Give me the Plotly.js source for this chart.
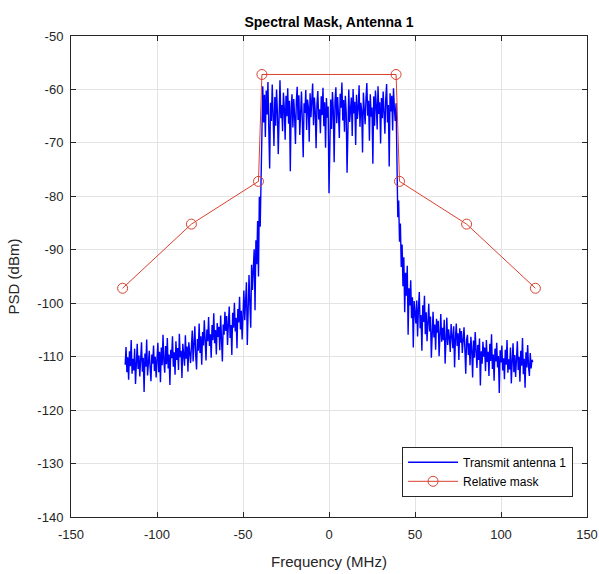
<!DOCTYPE html>
<html>
<head>
<meta charset="utf-8">
<script src="https://cdn.plot.ly/plotly-3.0.1.min.js"></script>
<style>
  html, body { margin: 0; padding: 0; background: #ffffff; }
  #chart { width: 599px; height: 574px; }
</style>
</head>
<body>
<div id="chart"></div>
<script>
// Power spectral density of transmit antenna 1, sampled on a 0.5 MHz grid.
const freqStep = 0.5;

// Lower out-of-band region: -118.5 MHz .. -39.5 MHz
const psdLeftStart = -118.5;
const psdLeft = [
  -111.5, -108.2, -112.9, -110.1, -114.3, -109.0, -111.8, -106.9, -113.2, -110.4,
  -112.6, -108.5, -115.1, -110.9, -107.6, -112.3, -109.8, -113.7, -111.0, -107.3,
  -112.8, -110.2, -116.6, -109.4, -111.9, -106.8, -113.5, -110.7, -108.9, -112.1,
  -114.6, -109.6, -111.3, -107.9, -112.7, -110.0, -113.9,
  -110.5, -107.4, -112.9, -109.1, -114.8, -108.3, -111.6, -105.9, -110.9, -113.0,
  -108.0, -111.4, -106.5, -112.2, -109.6, -115.3, -108.7, -110.3, -106.2, -111.9,
  -109.2, -113.4, -107.1, -110.6, -108.4, -112.5, -105.7, -110.1, -108.9, -114.0,
  -107.6, -109.9, -111.7, -106.0, -110.4, -108.1, -112.8, -107.3, -109.5, -111.2,
  -108.2, -105.1, -110.9, -107.6, -104.3, -109.8, -112.4, -106.7, -108.9, -103.8,
  -109.3, -106.2, -111.5, -105.4, -107.9, -103.2, -108.6, -110.7, -104.9, -107.1,
  -102.6, -108.0, -105.8, -110.2, -104.1, -106.9, -101.9, -107.5, -105.0, -109.6,
  -103.7, -106.3, -104.4, -108.8, -102.3, -106.1, -110.9, -104.0, -105.9, -101.6,
  -105.2, -102.4, -107.8, -103.9, -100.6, -106.5, -104.1, -109.7, -101.8, -104.6,
  -99.9, -105.3, -102.7, -108.4, -101.1, -103.6, -98.8, -104.9, -101.4, -106.8,
  -100.9, -97.6, -103.2, -99.4, -96.1, -107.8, -98.3, -94.7, -100.2, -104.6,
  -92.8, -97.5, -93.6, -89.9, -101.3, -88.2, -92.7, -84.6, -95.0, -80.1,
  -85.7, -74.8
];

// Occupied channel: -39 MHz .. 39 MHz (DC bin at 0 MHz)
const psdBandStart = -39;
const psdBand = [
  -63.1, -59.4, -66.2, -61.0, -68.9, -60.2, -64.7, -58.6, -67.3, -74.8,
  -62.5, -65.9, -59.1, -63.8, -70.6, -61.4, -66.8, -60.0, -64.2, -72.1,
  -61.7, -58.3, -65.4, -62.9, -67.8, -60.6, -63.5, -69.4, -61.2, -65.0,
  -59.8, -66.4, -62.1, -75.3, -63.6, -60.9, -67.1, -61.8, -64.9, -70.2,
  -62.3, -59.5, -65.7, -61.1, -68.5, -63.0, -60.4, -66.0, -72.7, -62.6,
  -64.4, -60.1, -67.6, -61.9, -63.3, -69.8, -60.7, -65.2, -62.0, -58.9,
  -66.7, -61.5, -64.1, -71.0, -62.8, -60.3, -65.6, -63.7, -68.2, -61.3,
  -64.8, -59.7, -66.9, -62.4, -70.9, -61.6, -65.3, -63.2, -79.4, -64.0,
  -61.9, -67.4, -60.5, -63.9, -73.6, -62.2, -59.6, -66.3, -61.4, -64.6,
  -69.1, -60.8, -63.4, -58.7, -65.8, -62.0, -67.9, -61.2, -64.3, -75.6,
  -62.7, -60.0, -66.1, -63.1, -61.5, -68.7, -59.9, -64.5, -62.3, -70.4,
  -61.0, -65.5, -63.6, -59.2, -67.0, -62.5, -64.0, -71.8, -60.6, -63.8,
  -66.5, -61.7, -58.8, -64.9, -62.1, -69.6, -60.9, -65.1, -63.4, -73.9,
  -61.3, -66.8, -60.2, -63.0, -67.5, -59.4, -64.6, -62.4, -70.1, -61.6,
  -65.4, -60.4, -63.7, -68.3, -61.8, -59.0, -66.2, -62.9, -74.4, -60.7,
  -64.1, -61.2, -67.7, -59.8, -63.5, -65.9, -62.6
];

// Upper out-of-band region: 39.5 MHz .. 118.5 MHz
const psdRightStart = 39.5;
const psdRight = [
  -76.2, -83.9, -80.8, -88.5, -85.1, -93.2, -89.0, -96.8, -91.4, -101.7,
  -94.3, -98.6, -93.0, -105.9, -97.2, -100.4, -95.7, -102.8, -98.9, -108.3,
  -99.6, -101.5,
  -103.8, -99.5, -106.2, -101.0, -97.9, -104.7, -102.2, -108.9, -100.4, -103.5,
  -98.6, -105.8, -101.7, -107.1, -103.0, -100.1, -105.3, -102.5, -110.2, -103.9,
  -101.6, -106.4, -104.0, -108.7, -102.9, -105.5, -103.3, -109.9, -105.0, -102.0,
  -107.2, -104.6, -106.9, -103.1, -111.3, -105.8, -102.7, -107.8, -104.9, -106.4,
  -109.1, -103.9, -106.0, -108.4, -104.3, -112.0, -106.7, -103.8, -108.0, -105.6,
  -110.6, -104.7, -107.4, -105.2, -109.3, -106.3, -104.5, -108.6, -113.2, -106.8,
  -105.9, -109.7, -107.5, -111.6, -106.3, -108.8, -113.9, -107.0, -110.2, -105.4,
  -109.4, -112.1, -107.8, -110.6, -106.6, -115.4, -109.0, -111.3, -107.2, -110.0,
  -108.3, -112.7, -106.9, -111.0, -109.1, -113.6, -107.6, -110.8, -105.8, -112.3,
  -109.6, -114.5, -108.5, -110.9, -107.4, -112.0, -109.9, -116.8, -108.8, -111.1,
  -107.9, -112.6, -110.3, -114.2, -108.7, -111.5, -106.9, -113.0, -110.5, -112.4,
  -108.3, -115.0, -110.8, -107.5, -112.9, -109.7, -113.8, -111.2, -107.1, -112.5,
  -110.0, -114.7, -108.9, -111.7, -106.5, -113.3, -110.4, -115.8, -109.2, -112.0,
  -107.8, -111.9, -113.6, -109.3, -112.2, -110.6, -111.0
];

// Relative spectral mask (0 dBr referenced to -57.2 dBm)
const maskFreq  = [-120, -80, -41, -39, 39, 41, 80, 120];
const maskLevel = [-97.2, -85.2, -77.2, -57.2, -57.2, -77.2, -85.2, -97.2];

// Axis ticks
const freqTicks = [-150, -100, -50, 0, 50, 100, 150];
const psdTicks  = [-140, -130, -120, -110, -100, -90, -80, -70, -60, -50];

// Build the frequency axis for each segment on the common grid
function segmentFreqs(start, values) {
  return values.map((_, i) => start + i * freqStep);
}
const psdFreq = [].concat(
  segmentFreqs(psdLeftStart, psdLeft),
  segmentFreqs(psdBandStart, psdBand),
  segmentFreqs(psdRightStart, psdRight)
);
const psdValue = [].concat(psdLeft, psdBand, psdRight);

const axisColor = '#262626';
const gridColor = '#e3e3e3';
const fontFamily = 'Liberation Sans, Arial, sans-serif';

const traces = [
  {
    x: psdFreq,
    y: psdValue,
    type: 'scatter',
    mode: 'lines',
    name: 'Transmit antenna 1',
    line: { color: '#0000ff', width: 1.4 }
  },
  {
    x: maskFreq,
    y: maskLevel,
    type: 'scatter',
    mode: 'lines+markers',
    name: 'Relative mask',
    line: { color: '#d9412f', width: 1 },
    marker: { symbol: 'circle-open', size: 10, color: '#d9412f', line: { width: 1 } }
  }
];

const layout = {
  width: 599,
  height: 574,
  paper_bgcolor: '#ffffff',
  plot_bgcolor: '#ffffff',
  margin: { l: 71, r: 12, t: 36, b: 57 },
  font: { family: fontFamily, size: 13, color: axisColor },
  title: {
    text: '<b>Spectral Mask, Antenna 1</b>',
    font: { family: fontFamily, size: 14, color: '#000000' },
    x: (71 + 258) / 599,
    xanchor: 'center',
    xref: 'container',
    y: 1 - 22 / 574,
    yanchor: 'middle',
    yref: 'container'
  },
  xaxis: {
    range: [-150, 150],
    tickvals: freqTicks,
    ticktext: freqTicks.map(String),
    ticks: 'inside',
    ticklen: 5,
    tickcolor: axisColor,
    ticklabelstandoff: 5,
    showline: true,
    linecolor: axisColor,
    linewidth: 1,
    mirror: 'ticks',
    showgrid: true,
    gridcolor: gridColor,
    zeroline: false,
    tickfont: { size: 13, color: axisColor },
    title: { text: 'Frequency (MHz)', font: { size: 15, color: axisColor }, standoff: 15 }
  },
  yaxis: {
    range: [-140, -50],
    tickvals: psdTicks,
    ticktext: psdTicks.map(String),
    ticks: 'inside',
    ticklen: 5,
    tickcolor: axisColor,
    ticklabelstandoff: 4,
    showline: true,
    linecolor: axisColor,
    linewidth: 1,
    mirror: 'ticks',
    showgrid: true,
    gridcolor: gridColor,
    zeroline: false,
    tickfont: { size: 13, color: axisColor },
    title: { text: 'PSD (dBm)', font: { size: 15, color: axisColor }, standoff: 14 }
  },
  legend: {
    x: 0.973,
    y: 0.042,
    xanchor: 'right',
    yanchor: 'bottom',
    bgcolor: '#ffffff',
    bordercolor: '#262626',
    borderwidth: 1,
    font: { size: 12, color: '#000000' },
    itemwidth: 50,
    tracegroupgap: 0
  },
  showlegend: true
};

Plotly.newPlot('chart', traces, layout, { displayModeBar: false, staticPlot: true });
</script>
</body>
</html>
